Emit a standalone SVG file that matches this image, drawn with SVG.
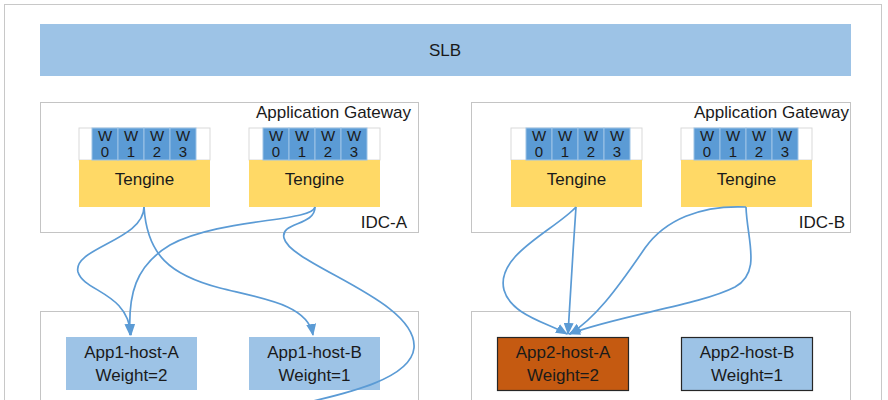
<svg xmlns="http://www.w3.org/2000/svg" width="888" height="400" viewBox="0 0 888 400">
<defs>
<style>
.frame{fill:#fff;stroke:#c8c8c8;stroke-width:1}
.box{fill:#fff;stroke:#c4c4c4;stroke-width:1}
.slb{fill:#9dc3e6}
.teng{fill:#ffd966}
.tw{fill:#fff}
.cell{fill:#5b9bd5;stroke:#9dc3e6;stroke-width:1}
.app{fill:#9dc3e6}
.appk{fill:#9dc3e6;stroke:#262626;stroke-width:1.2}
.appo{fill:#c55a11;stroke:#262626;stroke-width:1.2}
text{font-family:"Liberation Sans",Arial,sans-serif;fill:#1a1a1a}
.t16{font-size:17px}
.t14{font-size:15px;text-anchor:middle}
.mid{text-anchor:middle}
.end{text-anchor:end}
.c{fill:none;stroke:#5b9bd5;stroke-width:1.7}
</style>
<marker id="arr" viewBox="0 0 12 10" refX="11" refY="5" markerWidth="12" markerHeight="10" markerUnits="userSpaceOnUse" orient="auto">
<path d="M0,0 L12,5 L0,10 z" fill="#5b9bd5"/>
</marker>
</defs>
<rect x="0" y="0" width="888" height="400" fill="#fff"/>
<rect class="frame" x="4.5" y="4.5" width="877" height="420"/>

<g id="slb">
<rect class="slb" x="40" y="24" width="811" height="52"/>
<text class="t16 mid" x="445" y="56">SLB</text>
</g>

<g id="idc-a">
<rect class="box" x="40.5" y="102.5" width="378" height="130"/>
<text class="t16 end" x="411" y="118">Application Gateway</text>
<text class="t16 end" x="407" y="228">IDC-A</text>
</g>
<g id="idc-b">
<rect class="box" x="471.5" y="102.5" width="379" height="130"/>
<text class="t16 end" x="849" y="118">Application Gateway</text>
<text class="t16 end" x="845" y="228">IDC-B</text>
</g>

<g id="tengine-a1">
<rect class="tw" x="79" y="128" width="131" height="32" stroke="#d9d9d9"/>
<rect class="teng" x="79" y="160" width="131" height="47"/>
<rect class="cell" x="92" y="128" width="26" height="32"/><rect class="cell" x="118" y="128" width="26" height="32"/><rect class="cell" x="144" y="128" width="26" height="32"/><rect class="cell" x="170" y="128" width="26" height="32"/>
<text class="t14" x="105" y="141">W</text><text class="t14" x="131" y="141">W</text><text class="t14" x="157" y="141">W</text><text class="t14" x="183" y="141">W</text>
<text class="t14" x="105" y="157">0</text><text class="t14" x="131" y="157">1</text><text class="t14" x="157" y="157">2</text><text class="t14" x="183" y="157">3</text>
<text class="t16 mid" x="144.5" y="185">Tengine</text>
</g>
<g id="tengine-a2">
<rect class="tw" x="249" y="128" width="131" height="32" stroke="#d9d9d9"/>
<rect class="teng" x="249" y="160" width="131" height="47"/>
<rect class="cell" x="263" y="128" width="26" height="32"/><rect class="cell" x="289" y="128" width="26" height="32"/><rect class="cell" x="315" y="128" width="26" height="32"/><rect class="cell" x="341" y="128" width="26" height="32"/>
<text class="t14" x="276" y="141">W</text><text class="t14" x="302" y="141">W</text><text class="t14" x="328" y="141">W</text><text class="t14" x="354" y="141">W</text>
<text class="t14" x="276" y="157">0</text><text class="t14" x="302" y="157">1</text><text class="t14" x="328" y="157">2</text><text class="t14" x="354" y="157">3</text>
<text class="t16 mid" x="314.5" y="185">Tengine</text>
</g>
<g id="tengine-b1">
<rect class="tw" x="511" y="128" width="131" height="32" stroke="#d9d9d9"/>
<rect class="teng" x="511" y="160" width="131" height="47"/>
<rect class="cell" x="526" y="128" width="26" height="32"/><rect class="cell" x="552" y="128" width="26" height="32"/><rect class="cell" x="578" y="128" width="26" height="32"/><rect class="cell" x="604" y="128" width="26" height="32"/>
<text class="t14" x="539" y="141">W</text><text class="t14" x="565" y="141">W</text><text class="t14" x="591" y="141">W</text><text class="t14" x="617" y="141">W</text>
<text class="t14" x="539" y="157">0</text><text class="t14" x="565" y="157">1</text><text class="t14" x="591" y="157">2</text><text class="t14" x="617" y="157">3</text>
<text class="t16 mid" x="576.5" y="185">Tengine</text>
</g>
<g id="tengine-b2">
<rect class="tw" x="681" y="128" width="131" height="32" stroke="#d9d9d9"/>
<rect class="teng" x="681" y="160" width="131" height="47"/>
<rect class="cell" x="694" y="128" width="26" height="32"/><rect class="cell" x="720" y="128" width="26" height="32"/><rect class="cell" x="746" y="128" width="26" height="32"/><rect class="cell" x="772" y="128" width="26" height="32"/>
<text class="t14" x="707" y="141">W</text><text class="t14" x="733" y="141">W</text><text class="t14" x="759" y="141">W</text><text class="t14" x="785" y="141">W</text>
<text class="t14" x="707" y="157">0</text><text class="t14" x="733" y="157">1</text><text class="t14" x="759" y="157">2</text><text class="t14" x="785" y="157">3</text>
<text class="t16 mid" x="746.5" y="185">Tengine</text>
</g>

<g id="app1-group">
<rect class="box" x="40.5" y="311.5" width="378" height="120"/>
</g>
<g id="app2-group">
<rect class="box" x="471.5" y="311.5" width="379" height="120"/>
</g>

<g id="app1-host-a">
<rect class="app" x="66" y="337" width="131" height="53"/>
<text class="t16 mid" x="131.5" y="358">App1-host-A</text>
<text class="t16 mid" x="131.5" y="381">Weight=2</text>
</g>
<g id="app1-host-b">
<rect class="app" x="249" y="337" width="131" height="53"/>
<text class="t16 mid" x="314.5" y="358">App1-host-B</text>
<text class="t16 mid" x="314.5" y="381">Weight=1</text>
</g>
<g id="app2-host-a">
<rect class="appo" x="497.5" y="337.5" width="131" height="53"/>
<text class="t16 mid" x="563" y="358">App2-host-A</text>
<text class="t16 mid" x="563" y="381">Weight=2</text>
</g>
<g id="app2-host-b">
<rect class="appk" x="681.5" y="337.5" width="131" height="53"/>
<text class="t16 mid" x="747" y="358">App2-host-B</text>
<text class="t16 mid" x="747" y="381">Weight=1</text>
</g>

<g id="connectors">
<path class="c" marker-end="url(#arr)" d="M144,207 C144,240 72,248 78,272 C84,292 128,292 131,335"/>
<path class="c" marker-end="url(#arr)" d="M144,207 C147,255 170,275 220,288 C265,299 308,305 313,335"/>
<path class="c" marker-end="url(#arr)" d="M315,207 C312,222 220,218 170,245 C135,266 128,295 130,335"/>
<path class="c" d="M315,207 C315,226 280,222 284,238 C290,265 418,300 414,348 C411,378 350,393 300,404"/>
<path class="c" marker-end="url(#arr)" d="M576,207 C555,230 495,255 504,290 C511,315 548,323 567,334"/>
<path class="c" marker-end="url(#arr)" d="M576,207 C573,250 570,300 568,334"/>
<path class="c" marker-end="url(#arr)" d="M746,207 C700,205 665,220 645,248 C615,292 595,318 570,334"/>
<path class="c" marker-end="url(#arr)" d="M746,207 C747,240 762,272 735,287 C700,305 620,315 569,334"/>
</g>
</svg>
